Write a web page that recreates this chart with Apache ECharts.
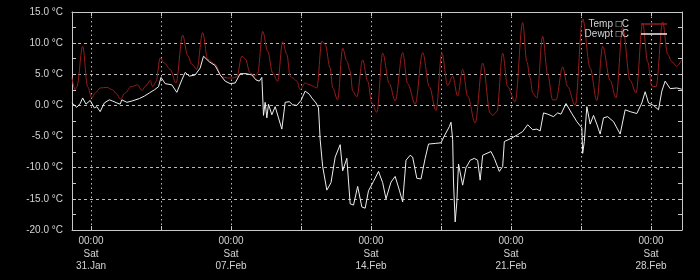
<!DOCTYPE html>
<html><head><meta charset="utf-8">
<script src="https://cdn.jsdelivr.net/npm/echarts@6/dist/echarts.min.js"></script>
<style>html,body{margin:0;padding:0;background:#000;}#c{width:700px;height:280px;}</style>
</head><body><div id="c"></div>
<script>
// ---- data (times are 2015, 'MM-DD HH') ----
const tempTimes = ['01-30 01','01-30 05','01-30 07','01-30 14','01-30 20','01-31 01','01-31 05','01-31 11','01-31 19','02-01 02','02-01 07','02-01 11','02-01 17','02-02 00','02-02 08','02-02 13','02-02 18','02-02 23','02-03 02','02-03 06','02-03 11','02-03 16','02-03 23','02-04 06','02-04 14','02-04 20','02-05 01','02-05 07','02-05 14','02-05 20','02-06 05','02-06 13','02-06 20','02-07 02','02-07 07','02-07 13','02-07 17','02-07 23','02-08 05','02-08 08','02-08 14','02-08 20','02-09 02','02-09 08','02-09 14','02-09 19','02-09 23','02-10 02','02-10 07','02-10 11','02-10 17','02-10 23','02-11 02','02-11 07','02-11 13','02-11 17','02-11 23','02-12 02','02-12 08','02-12 14','02-12 19','02-12 23','02-13 02','02-13 07','02-13 14','02-13 20','02-14 01','02-14 07','02-14 14','02-14 22','02-15 05','02-15 14','02-15 20','02-16 05','02-16 14','02-16 22','02-17 06','02-17 13','02-17 20','02-18 02','02-18 08','02-18 14','02-18 20','02-19 05','02-19 14','02-19 23','02-20 02','02-20 07','02-20 14','02-20 20','02-21 05','02-21 14','02-21 19','02-21 23','02-22 02','02-22 07','02-22 14','02-22 20','02-23 02','02-23 06','02-23 14','02-23 20','02-24 05','02-24 14','02-24 23','02-25 07','02-25 14','02-25 23','02-26 06','02-26 14','02-26 23','02-27 06','02-27 14','02-27 20','02-28 01','02-28 06','02-28 14','02-28 20','03-01 01','03-01 07','03-01 13'];
const tempValues = [4.5,2.5,3.0,9.5,3.0,1.2,2.0,2.8,2.9,2.5,1.8,1.0,2.0,3.0,3.3,2.4,3.2,4.0,3.0,3.8,7.6,6.8,5.8,3.6,11.3,8.0,6.6,5.8,11.7,7.4,6.6,4.6,4.4,4.4,4.6,7.9,7.5,5.2,4.7,5.2,11.9,8.7,5.2,3.9,10.2,8.2,4.7,4.4,3.9,2.5,3.6,3.3,3.1,2.8,10.3,9.8,6.0,2.8,0.9,9.2,7.1,5.5,2.3,1.4,7.3,3.9,0.4,-1.1,8.4,3.5,0.7,8.5,3.5,0.2,8.5,3.0,-0.8,8.4,3.2,4.7,1.5,5.8,1.5,-2.8,6.8,-1.2,-1.6,-1.0,8.4,3.0,0.6,13.3,7.0,4.4,2.0,1.2,11.1,5.0,0.9,0.9,6.2,3.0,0.0,13.9,6.0,0.8,9.5,4.0,1.2,12.5,4.0,2.0,13.2,7.0,3.1,3.0,13.4,8.2,7.0,6.3,7.4];
const dewTimes = ['01-30 01','01-30 07','01-30 11','01-30 14','01-30 18','01-30 23','01-31 04','01-31 07','01-31 11','01-31 16','01-31 22','02-01 02','02-01 07','02-01 11','02-01 13','02-01 19','02-02 01','02-02 10','02-02 16','02-02 22','02-03 04','02-03 09','02-03 12','02-03 17','02-04 01','02-04 07','02-04 13','02-04 17','02-04 22','02-05 05','02-05 11','02-05 15','02-05 22','02-06 05','02-06 11','02-06 17','02-06 23','02-07 05','02-07 11','02-07 18','02-08 01','02-08 06','02-08 10','02-08 13','02-08 15','02-08 17','02-08 19','02-08 21','02-09 01','02-09 05','02-09 09','02-09 13','02-09 17','02-09 22','02-10 02','02-10 07','02-10 12','02-10 17','02-10 22','02-11 01','02-11 06','02-11 09','02-11 11','02-11 14','02-11 19','02-12 00','02-12 05','02-12 11','02-12 14','02-12 19','02-12 23','02-13 03','02-13 08','02-13 13','02-13 17','02-13 21','02-14 03','02-14 09','02-14 14','02-14 18','02-15 00','02-15 05','02-15 10','02-15 14','02-15 18','02-15 23','02-16 02','02-16 07','02-16 12','02-16 17','02-16 21','02-17 05','02-17 12','02-17 16','02-17 22','02-18 00','02-18 02','02-18 03','02-18 05','02-18 07','02-18 09','02-18 11','02-18 14','02-18 18','02-18 23','02-19 04','02-19 08','02-19 11','02-19 14','02-20 00','02-20 04','02-20 10','02-20 14','02-20 16','02-21 00','02-21 08','02-21 14','02-21 20','02-22 02','02-22 07','02-22 11','02-22 15','02-22 20','02-23 03','02-23 08','02-23 12','02-23 18','02-24 01','02-24 07','02-24 13','02-24 14','02-24 16','02-24 19','02-24 23','02-25 03','02-25 07','02-25 11','02-25 15','02-25 20','02-26 03','02-26 11','02-26 17','02-26 23','02-27 07','02-27 13','02-27 17','02-27 21','02-28 03','02-28 09','02-28 13','02-28 17','02-28 23','03-01 07','03-01 13'];
const dewValues = [0.4,-0.3,0.3,1.2,0.2,0.8,-0.4,-0.2,-1.0,0.4,0.9,0.7,0.4,0.2,0.9,0.5,0.7,1.1,1.5,2.0,2.5,3.0,4.5,3.5,3.3,2.1,4.1,5.3,4.7,4.9,6.0,7.9,7.0,6.4,4.9,3.9,3.5,3.6,5.1,5.1,4.9,4.1,3.9,4.5,-1.6,0.5,-2.0,0.2,-1.5,-0.2,-2.0,-3.8,0.5,0.6,0.1,0.0,0.8,2.3,1.8,1.2,0.4,-0.4,-5.5,-9.8,-13.6,-12.4,-8.3,-6.3,-10.5,-8.5,-15.8,-16.0,-13.0,-16.3,-16.5,-13.7,-12.2,-10.6,-12.4,-15.0,-12.3,-11.4,-13.6,-15.5,-8.8,-8.0,-8.3,-11.7,-11.8,-8.5,-6.2,-6.1,-6.0,-4.9,-3.4,-2.7,-5.5,-12.3,-18.7,-15.5,-9.4,-9.6,-12.8,-10.0,-8.8,-8.5,-8.8,-12.0,-8.0,-7.4,-8.5,-10.6,-9.8,-5.8,-5.3,-4.7,-4.2,-3.1,-3.9,-3.8,-4.1,-1.2,-1.4,-1.8,-1.2,-1.4,0.3,-1.3,-2.6,-3.6,-7.7,-5.8,-0.2,-3.0,-1.6,-3.0,-4.6,-2.0,-1.8,-2.6,-4.6,-0.7,-1.0,-1.3,0.4,2.2,0.4,0.0,-0.7,2.3,3.9,2.7,2.8,2.6];
const tickTimes = ['01-31 00','02-03 12','02-07 00','02-10 12','02-14 00','02-17 12','02-21 00','02-24 12','02-28 00'];
const labelTimes = ['01-31 00','02-07 00','02-14 00','02-21 00','02-28 00'];
const seriesNames = ['Temp \u25A1C', 'Dewpt \u25A1C'];

const YEAR = 2015;
function ts(s){ const m=+s.slice(0,2), d=+s.slice(3,5), h=+s.slice(6,8); return Date.UTC(YEAR, m-1, d, h); }
function pairs(t, v){ return t.map((x,i)=>[ts(x), v[i]]); }
const DAYS=['Sun','Mon','Tue','Wed','Thu','Fri','Sat'];
const MONTHS=['Jan','Feb','Mar','Apr','May','Jun','Jul','Aug','Sep','Oct','Nov','Dec'];
const pad=n=>String(n).padStart(2,'0');
function fmt(v){ const d=new Date(v); return pad(d.getUTCHours())+':'+pad(d.getUTCMinutes())+'\n'+DAYS[d.getUTCDay()]+'\n'+pad(d.getUTCDate())+'.'+MONTHS[d.getUTCMonth()]; }

const XMIN = Date.UTC(YEAR,0,30,1,12), XMAX = Date.UTC(YEAR,2,1,13,12);
const TXT = '#d4d4d4', AX = '#c8c8c8', FONT = 'Liberation Sans';
const tickMs = tickTimes.map(ts), labelMs = labelTimes.map(ts);

const chart = echarts.init(document.getElementById('c'), null, {renderer:'canvas'});
chart.setOption({
  backgroundColor:'#000',
  animation:false,
  grid:{left:72,right:18,top:12,bottom:50},
  legend:{orient:'vertical',right:28,top:14,itemGap:0,itemWidth:26,itemHeight:1.5,align:'right',icon:'rect',
    textStyle:{color:TXT,fontFamily:FONT,fontSize:10,padding:[0,7,0,0]},data:seriesNames},
  xAxis:[{type:'value',min:XMIN,max:XMAX,position:'bottom',scale:true,
    axisLine:{show:true,onZero:false,lineStyle:{color:AX,width:1}},
    axisTick:{show:true,inside:true,length:4,customValues:tickMs,lineStyle:{color:AX}},
    axisLabel:{show:true,customValues:labelMs,formatter:fmt,color:TXT,fontFamily:FONT,fontSize:10,lineHeight:12.5,margin:5,hideOverlap:false},
    splitLine:{show:true,lineStyle:{color:'#bbbbbb',type:[1.5,3],width:1}}},
   {type:'value',min:XMIN,max:XMAX,position:'top',scale:true,
    axisLine:{show:true,onZero:false,lineStyle:{color:AX,width:1}},
    axisTick:{show:true,inside:true,length:4,customValues:tickMs,lineStyle:{color:AX}},
    axisLabel:{show:false},splitLine:{show:false}}],
  yAxis:[{type:'value',min:-20,max:15,interval:5,position:'left',
    axisLine:{show:true,onZero:false,lineStyle:{color:AX,width:1}},
    axisTick:{show:true,inside:true,length:4,lineStyle:{color:AX}},
    minorTick:{show:true,splitNumber:2,length:4,lineStyle:{color:AX}},
    axisLabel:{formatter:v=>v.toFixed(1)+' \u00B0C',color:TXT,fontFamily:FONT,fontSize:10,margin:9},
    splitLine:{show:true,lineStyle:{color:'#bbbbbb',type:[3,3],width:1}}},
   {type:'value',min:-20,max:15,interval:5,position:'right',
    axisLine:{show:true,onZero:false,lineStyle:{color:AX,width:1}},
    axisTick:{show:true,inside:true,length:4,lineStyle:{color:AX}},
    minorTick:{show:true,splitNumber:2,length:4,lineStyle:{color:AX}},
    axisLabel:{show:false},splitLine:{show:false}}],
  series:[
    {name:seriesNames[0],type:'line',xAxisIndex:0,yAxisIndex:0,showSymbol:false,symbol:'none',data:pairs(tempTimes,tempValues),
      smooth:0.35,smoothMonotone:'x',
      lineStyle:{color:'#961c1c',width:1},itemStyle:{color:'#961c1c'},z:3},
    {name:seriesNames[1],type:'line',xAxisIndex:0,yAxisIndex:0,showSymbol:false,symbol:'none',data:pairs(dewTimes,dewValues),
      lineStyle:{color:'#eeeeee',width:1},itemStyle:{color:'#eeeeee'},z:4}
  ]
});
</script></body></html>
